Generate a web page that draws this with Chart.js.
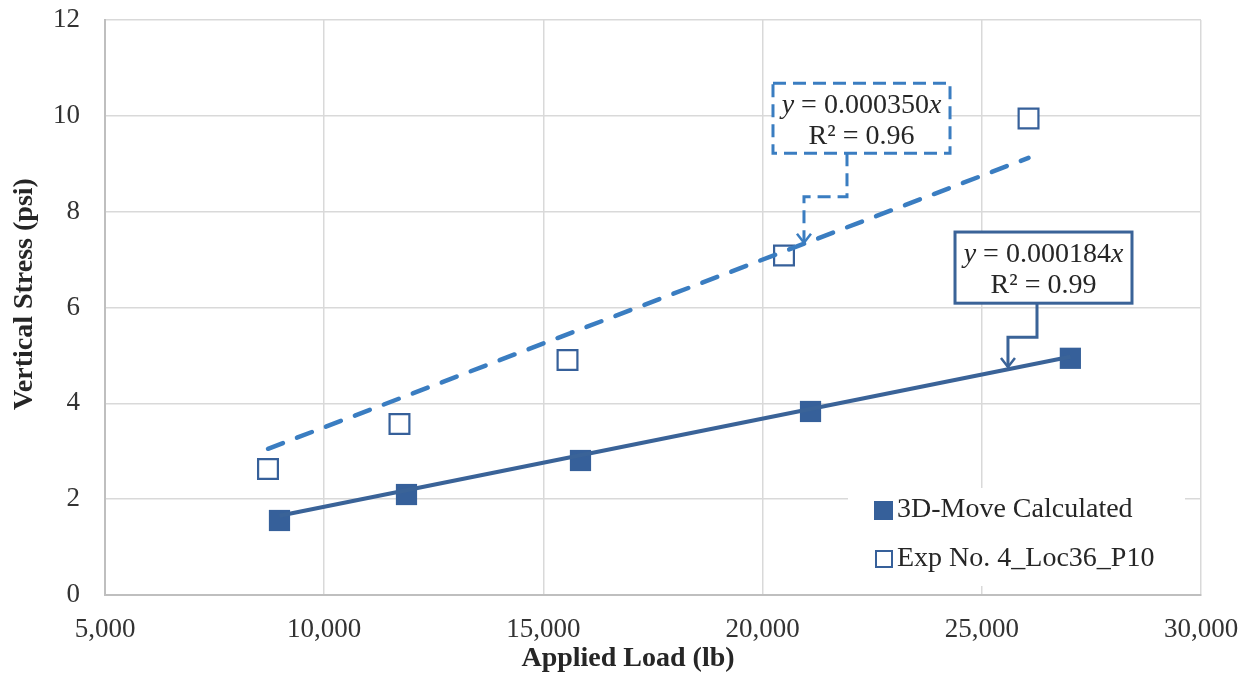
<!DOCTYPE html>
<html>
<head>
<meta charset="utf-8">
<script src="https://cdn.jsdelivr.net/npm/chart.js@4.4.0/dist/chart.umd.min.js"></script>
<style>
  html, body { margin: 0; padding: 0; background: #ffffff; }
  #wrap { position: relative; width: 1245px; height: 674px; }
</style>
</head>
<body>
<div id="wrap"><canvas id="c"></canvas></div>
<script>
// ---- data ----
const seriesNames = ['3D-Move Calculated', 'Exp No. 4_Loc36_P10'];
const loads3D   = [8980, 11877, 15846, 21093, 27020];
const stress3D  = [1.555, 2.097, 2.807, 3.83, 4.94];
const loadsExp  = [8718, 11717, 15550, 20488, 26066];
const stressExp = [2.63, 3.568, 4.904, 7.085, 9.944];
const trendSlopes = [0.000184, 0.000350];
const trendR2     = [0.99, 0.96];
const xTicks = [5000, 10000, 15000, 20000, 25000, 30000];
const yTicks = [0, 2, 4, 6, 8, 10, 12];
const xTitle = 'Applied Load (lb)';
const yTitle = 'Vertical Stress (psi)';

// ---- styles ----
const FONT = '"Liberation Serif", "Times New Roman", serif';
const C_FILL = '#36609a';
const C_SOLID = '#3a6398';
const C_DASH = '#3a7dc1';
const TXT = '#333333';

const pts = (xs, ys) => xs.map((x, i) => ({ x: x, y: ys[i] }));
const trend = (xs, k) => {
  const lo = Math.min(...xs), hi = Math.max(...xs);
  return [{ x: lo, y: k * lo }, { x: hi, y: k * hi }];
};

// callout placements (data coordinates)
const callouts = [
  { ds: 0, box: [24389, 28426, 7.575, 6.09], leader: [[26259, 6.09], [26259, 5.38], [25597, 5.38], [25597, 4.76]], color: C_SOLID, dash: [] },
  { ds: 1, box: [20237, 24275, 10.68, 9.22], leader: [[21925, 9.22], [21925, 8.31], [20944, 8.31], [20944, 7.35]], color: C_DASH, dash: [13, 7] }
];

function drawEq(ctx, cx, baseY, slope) {
  const segs = [
    { t: 'y', it: true },
    { t: ' = ' + slope.toFixed(6), it: false },
    { t: 'x', it: true }
  ];
  let w = 0;
  segs.forEach(s => { ctx.font = (s.it ? 'italic ' : '') + '28px ' + FONT; s.w = ctx.measureText(s.t).width; w += s.w; });
  let x = cx - w / 2;
  ctx.textAlign = 'left';
  segs.forEach(s => { ctx.font = (s.it ? 'italic ' : '') + '28px ' + FONT; ctx.fillText(s.t, x, baseY); x += s.w; });
}

const overlay = {
  id: 'overlay',
  afterDatasetsDraw(chart) {
    const ctx = chart.ctx, xs = chart.scales.x, ys = chart.scales.y;
    ctx.save();
    // callouts
    callouts.forEach(co => {
      const l = xs.getPixelForValue(co.box[0]), r = xs.getPixelForValue(co.box[1]);
      const t = ys.getPixelForValue(co.box[2]), b = ys.getPixelForValue(co.box[3]);
      ctx.setLineDash(co.dash);
      ctx.lineWidth = 3;
      ctx.strokeStyle = co.color;
      ctx.lineCap = 'butt';
      // leader
      ctx.beginPath();
      co.leader.forEach((p, i) => {
        const px = xs.getPixelForValue(p[0]), py = ys.getPixelForValue(p[1]);
        if (i === 0) ctx.moveTo(px, py); else ctx.lineTo(px, py);
      });
      ctx.stroke();
      // arrow head
      const tip = co.leader[co.leader.length - 1];
      const tx = xs.getPixelForValue(tip[0]), ty = ys.getPixelForValue(tip[1]);
      ctx.setLineDash([]);
      ctx.lineWidth = 2.5;
      ctx.beginPath();
      ctx.moveTo(tx - 7, ty - 9); ctx.lineTo(tx, ty); ctx.lineTo(tx + 7, ty - 9);
      ctx.stroke();
      // box
      ctx.fillStyle = '#ffffff';
      ctx.fillRect(l, t, r - l, b - t);
      ctx.setLineDash(co.dash);
      ctx.lineWidth = 3;
      ctx.strokeRect(l, t, r - l, b - t);
      ctx.setLineDash([]);
      // text
      ctx.fillStyle = '#262626';
      ctx.textBaseline = 'alphabetic';
      const cx = (l + r) / 2;
      drawEq(ctx, cx, t + 30, trendSlopes[co.ds]);
      ctx.font = '28px ' + FONT;
      ctx.textAlign = 'center';
      ctx.fillText('R\u00B2 = ' + trendR2[co.ds].toFixed(2), cx, t + 61);
    });

    // legend
    ctx.fillStyle = '#ffffff';
    ctx.fillRect(848, 488, 337, 98);
    ctx.font = '28px ' + FONT;
    ctx.textAlign = 'left';
    ctx.textBaseline = 'middle';
    // item 1
    ctx.fillStyle = C_FILL;
    ctx.fillRect(874, 501, 19, 19);
    ctx.fillStyle = '#262626';
    ctx.fillText(chart.data.datasets[0].label, 897, 510);
    // item 2
    ctx.fillStyle = '#ffffff';
    ctx.fillRect(876, 551, 16, 16);
    ctx.strokeStyle = C_FILL;
    ctx.lineWidth = 2;
    ctx.strokeRect(876, 551, 16, 16);
    ctx.fillStyle = '#262626';
    ctx.fillText(chart.data.datasets[1].label, 897, 559);
    ctx.restore();
  },
  afterDraw(chart) {
    const ctx = chart.ctx;
    ctx.save();
    ctx.fillStyle = '#262626';
    ctx.font = 'bold 28px ' + FONT;
    ctx.textAlign = 'center';
    ctx.textBaseline = 'alphabetic';
    ctx.fillText(xTitle, 628, 666);
    ctx.translate(32, 294);
    ctx.rotate(-Math.PI / 2);
    ctx.fillText(yTitle, 0, 0);
    ctx.restore();
  }
};

const zeroPad = s => { s.paddingTop = 0; s.paddingBottom = 0; s.paddingLeft = 0; s.paddingRight = 0; };

new Chart(document.getElementById('c'), {
  type: 'scatter',
  data: {
    datasets: [
      { label: seriesNames[0], data: pts(loads3D, stress3D), pointStyle: 'rect', pointRadius: 15,
        pointBackgroundColor: C_FILL, pointBorderColor: C_FILL, pointBorderWidth: 0, order: 2 },
      { label: seriesNames[1], data: pts(loadsExp, stressExp), pointStyle: 'rect', pointRadius: 14,
        pointBackgroundColor: '#ffffff', pointBorderColor: C_FILL, pointBorderWidth: 2.2, order: 3 },
      { label: 'trend0', data: trend(loads3D, trendSlopes[0]), showLine: true, pointRadius: 0,
        borderColor: C_SOLID, borderWidth: 4, order: 1 },
      { label: 'trend1', data: trend(loadsExp, trendSlopes[1]), showLine: true, pointRadius: 0,
        borderColor: C_DASH, borderWidth: 4.5, borderDash: [16, 15], borderCapStyle: 'round', order: 1 }
    ]
  },
  options: {
    responsive: true,
    maintainAspectRatio: false,
    animation: false,
    layout: { padding: { top: 20, right: 44, left: 0, bottom: 0 } },
    plugins: { legend: { display: false }, tooltip: { enabled: false } },
    scales: {
      x: {
        type: 'linear', min: 5000, max: 30000,
        afterBuildTicks: s => { s.ticks = xTicks.map(v => ({ value: v })); },
        afterFit: s => { s.height = 79; zeroPad(s); },
        ticks: { font: { family: FONT, size: 27 }, color: TXT, padding: 19, maxRotation: 0,
                 callback: v => v.toLocaleString('en-US') },
        grid: { color: '#d9d9d9', lineWidth: 1.5, drawTicks: false },
        border: { color: '#bfbfbf', width: 2 }
      },
      y: {
        type: 'linear', min: 0, max: 12,
        afterBuildTicks: s => { s.ticks = yTicks.map(v => ({ value: v })); },
        afterFit: s => { s.width = 105; zeroPad(s); },
        ticks: { font: { family: FONT, size: 27 }, color: TXT, padding: 25 },
        grid: { color: '#d9d9d9', lineWidth: 1.5, drawTicks: false },
        border: { color: '#bfbfbf', width: 2 }
      }
    }
  },
  plugins: [overlay]
});
</script>
</body>
</html>
